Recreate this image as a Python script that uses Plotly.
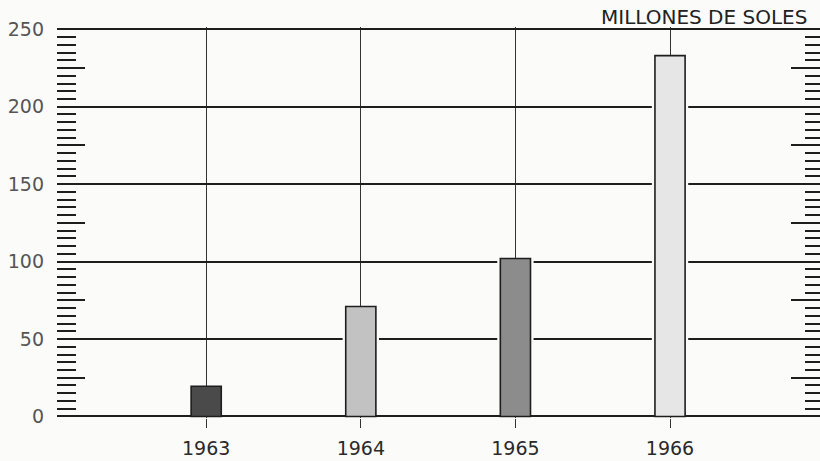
import plotly.graph_objects as go

years = ["1963", "1964", "1965", "1966"]
values = [19.5, 71, 102, 233]
bar_colors = ["#4a4a4a", "#c2c2c2", "#8c8c8c", "#e6e6e6"]
y_ticks = [0, 50, 100, 150, 200, 250]
unit_label = "MILLONES DE SOLES"

bg = "#fbfbfa"
ink = "#1e1e1e"
font_fam = "DejaVu Sans, Liberation Sans, sans-serif"

fig = go.Figure()

# background-coloured halo behind bars (gap in gridlines around bars)
fig.add_trace(go.Bar(
    x=years, y=[v - 1.5 for v in values], base=1.5, width=0.235,
    marker=dict(color=bg, line=dict(width=0)),
    hoverinfo="skip", showlegend=False, xaxis="x", yaxis="y"))

fig.add_trace(go.Bar(
    x=years, y=values, width=0.195,
    marker=dict(color=bar_colors, line=dict(color=ink, width=1.6)),
    showlegend=False, xaxis="x", yaxis="y"))

yr = [-1, 251.5]

fig.update_layout(
    width=820, height=461,
    margin=dict(l=57, r=0, t=27, b=43, autoexpand=False),
    paper_bgcolor=bg, plot_bgcolor=bg,
    barmode="overlay",
    font=dict(family=font_fam, color="#555555", size=19),
    xaxis=dict(
        type="category", range=[-0.965, 3.97],
        showgrid=True, gridcolor="#333333", gridwidth=1,
        ticks="outside", ticklen=9, tickcolor="#333333", tickwidth=1,
        showline=False, zeroline=False, automargin=False,
        ticklabelstandoff=4,
        tickfont=dict(size=19, color="#2a2a2a", family=font_fam),
    ),
    yaxis=dict(
        range=yr, tickvals=y_ticks, ticktext=[str(t) for t in y_ticks],
        showgrid=True, gridcolor=ink, gridwidth=2,
        zeroline=False, showline=False, automargin=False,
        ticks="inside", ticklen=19, tickcolor=ink, tickwidth=2,
        ticklabelstandoff=12,
        minor=dict(dtick=5, tick0=0, ticks="inside", ticklen=19,
                   tickcolor=ink, tickwidth=2, showgrid=False),
        tickfont=dict(size=19, color="#555555", family=font_fam),
    ),
    yaxis2=dict(
        range=yr, overlaying="y", anchor="x", side="left",
        dtick=25, tick0=0, ticks="inside", ticklen=28, tickcolor=ink, tickwidth=2,
        showticklabels=False, showgrid=False, zeroline=False, showline=False,
        automargin=False,
    ),
    yaxis3=dict(
        range=yr, overlaying="y", anchor="x", side="right",
        dtick=25, tick0=0, ticks="inside", ticklen=29, tickcolor=ink, tickwidth=2,
        minor=dict(dtick=5, tick0=0, ticks="inside", ticklen=15,
                   tickcolor=ink, tickwidth=2, showgrid=False),
        showticklabels=False, showgrid=False, zeroline=False, showline=False,
        automargin=False,
    ),
    annotations=[dict(
        text=unit_label, xref="paper", yref="paper",
        x=0.9856, y=1.0, xanchor="right", yanchor="bottom", yshift=-4,
        showarrow=False, font=dict(size=20, color="#222222", family=font_fam),
    )],
)

# invisible anchors to activate the overlaying axes
fig.add_trace(go.Scatter(x=[years[0]], y=[0], mode="markers", marker=dict(opacity=0),
                         hoverinfo="skip", showlegend=False, xaxis="x", yaxis="y2"))
fig.add_trace(go.Scatter(x=[years[0]], y=[0], mode="markers", marker=dict(opacity=0),
                         hoverinfo="skip", showlegend=False, xaxis="x", yaxis="y3"))

fig.write_html("out.html", config={"displayModeBar": False},
               post_script="document.body.style.margin='0';document.body.style.overflow='hidden';")
